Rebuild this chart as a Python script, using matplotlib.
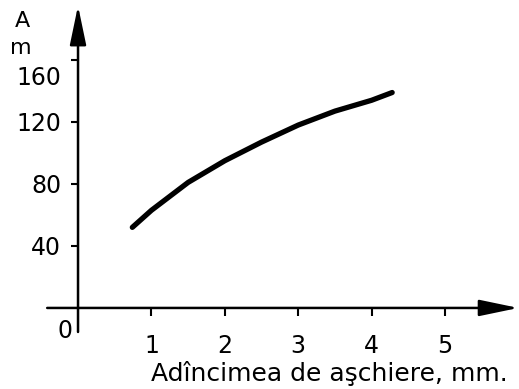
import numpy as np
import matplotlib
matplotlib.use('Agg')
import matplotlib.pyplot as plt
import matplotlib.transforms as mtransforms

# depth of cut (mm) vs A/m
depth = [0.74, 1.0, 1.5, 2.0, 2.5, 3.0, 3.5, 4.0, 4.28]
value = [52, 63, 81, 95, 107, 118, 127, 134, 139]
xticks = [1, 2, 3, 4, 5]
yticks = [40, 80, 120, 160]
xlabel = 'Adîncimea de aşchiere, mm.'

fig = plt.figure(figsize=(5.19, 3.89), dpi=100)
ax = fig.add_axes([0, 0, 1, 1])
ax.set_xlim(-1.063, 6.008)
ax.set_ylim(-52.3, 198.7)
for s in ax.spines.values():
    s.set_visible(False)
ax.spines['left'].set_position(('data', 0))
ax.spines['bottom'].set_position(('data', 0))

# axes drawn as arrows
arrow = dict(arrowstyle='-|>,head_length=1.2,head_width=0.25', lw=1.8,
             color='black', mutation_scale=20, shrinkA=0, shrinkB=0)
ax.annotate('', xy=(6.0, 0), xytext=(-0.42, 0), arrowprops=arrow)
ax.annotate('', xy=(0, 195), xytext=(0, -15.5), arrowprops=arrow)

ax.plot(depth, value, color='black', lw=3.8, solid_capstyle='round',
        solid_joinstyle='round')

fs = 17
ax.set_xticks(xticks)
ax.set_yticks(yticks)
ax.tick_params(axis='x', direction='out', length=6, width=1.5, pad=13, labelsize=fs)
ax.tick_params(axis='y', direction='out', length=5, width=1.5, pad=7, labelsize=fs)

# top label sits a bit below its tick, under the unit
top = ax.yaxis.get_major_ticks()[-1].label1
top.set_transform(top.get_transform() +
                  mtransforms.ScaledTranslation(0, -11 / 72, fig.dpi_scale_trans))

ax.annotate('0', xy=(0, 0), xytext=(-4, -8), textcoords='offset points',
            ha='right', va='top', fontsize=fs)
ax.text(-0.76, 185, 'A', ha='center', va='center', fontsize=16)
ax.text(-0.78, 168, 'm', ha='center', va='center', fontsize=16)
ax.text(0.634, 0.04, xlabel, transform=ax.transAxes, ha='center', va='center',
        fontsize=18)

fig.savefig('out.png', dpi=100)
